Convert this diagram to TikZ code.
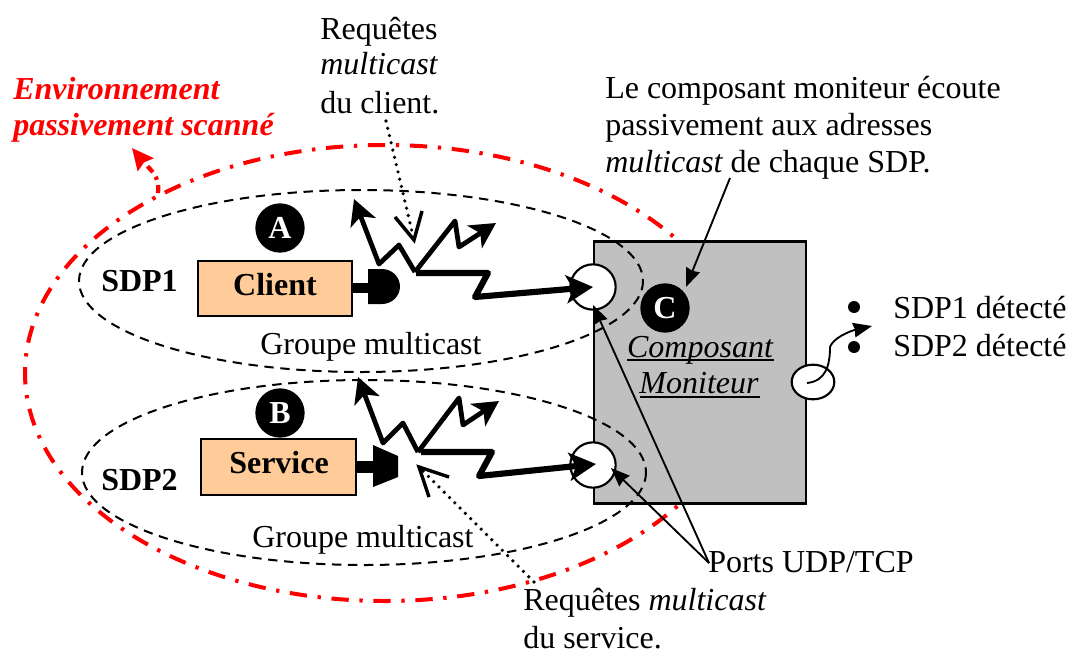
\documentclass[tikz,border=0pt]{standalone}
\usepackage{fontspec}
\setmainfont{Liberation Serif}
\usetikzlibrary{arrows.meta,shapes.geometric}
\definecolor{peach}{HTML}{FFCC99}
\definecolor{boxgrey}{HTML}{C0C0C0}
\newcommand{\tfont}{\fontsize{24}{28}\selectfont}
\tikzset{
  txt/.style={anchor=base west,inner sep=0pt,font=\tfont},
  txtbold/.style={txt,font=\tfont\bfseries},
  redtxt/.style={txt,text=red,font=\tfont\bfseries\itshape},
  compbox/.style={draw=black,line width=1.5pt,fill=peach,inner sep=0pt},
  boxlabel/.style={inner sep=0pt,font=\tfont\bfseries},
  badge/.style={circle,fill=black,text=white,minimum size=37pt,inner sep=0pt,font=\tfont\bfseries},
  port/.style={circle,draw=black,line width=1.6pt,fill=white,minimum size=34pt,inner sep=0pt},
  sdpring/.style={draw=black,line width=1.5pt,dash pattern=on 7pt off 5pt},
  envring/.style={draw=red,line width=3pt,dash pattern=on 13pt off 8pt on 2.5pt off 8pt},
  wave/.style={draw=black,line width=3.6pt,line join=round,-{Stealth[length=19pt,width=20pt,inset=5pt]}},
  wavebig/.style={draw=black,line width=4.6pt,line join=round,-{Stealth[length=20pt,width=21pt,inset=5pt]}},
  dotarrow/.style={draw=black,line width=2.7pt,line cap=round,dash pattern=on 0pt off 5.6pt},
  barb/.style={draw=black,line width=2.6pt,line join=miter},
  thinarrow/.style={draw=black,line width=1.4pt,-{Stealth[length=14pt,width=11pt,inset=1pt]}},
}
\begin{document}
\begin{tikzpicture}[x=0.75pt,y=-0.75pt]
\useasboundingbox (0,0) rectangle (1070,653);
% environment ring, behind the monitor box
\draw[envring] (385,373) ellipse [x radius=360,y radius=228];
\node[draw=black,line width=2.2pt,fill=boxgrey,minimum width=159pt,minimum height=197pt,inner sep=0pt] (mon) at (700,372.5) {};
% SDP rings
\draw[sdpring] (361,281) ellipse [x radius=282,y radius=91];
\draw[sdpring] (364,472.5) ellipse [x radius=282,y radius=92.5];
% ports
\node[port] (p1) at (593,287) {};
\node[port] (p2) at (593,465) {};
\node[ellipse,draw=black,line width=1.6pt,fill=white,minimum width=32pt,minimum height=26pt,inner sep=0pt] (p3) at (813,382) {};
% components
\node[compbox,minimum width=115.5pt,minimum height=41pt] (client) at (274.5,288.5) {};
\node[boxlabel] (clientlab) at (275,285) {Client};
\node[compbox,minimum width=116pt,minimum height=41.5pt] (service) at (278.5,467) {};
\node[boxlabel] (servicelab) at (279,463) {Service};
\node[badge] (A) at (280,228) {A};
\node[badge] (B) at (280,413) {B};
\node[badge] (C) at (665,308) {C};
% emitters
\coordinate (c1) at (352,288); \coordinate (c2) at (370,288);
\draw[line width=8pt] (c1) -- (c2);
\fill (368,269) -- (382,269) .. controls (392,269) and (400,277) .. (400,286.5) .. controls (400,296) and (392,304) .. (382,304) -- (368,304) -- cycle;
\coordinate (s1) at (356,467); \coordinate (s2) at (375,467);
\draw[line width=9pt] (s1) -- (s2);
\fill (373,445) -- (398,456) -- (398,477) -- (373,487) -- cycle;
% waves of A
\coordinate (ao) at (415,272);
\coordinate (at1) at (354,199);
\coordinate (at2) at (496,223);
\coordinate (at3) at (593,287);
\draw[wave] (ao) -- (399,245) -- (379,264) -- (at1);
\draw[wave] (ao) -- (455,221) -- (459,247) -- (at2);
\draw[wavebig] (416,273) -- (488,273) -- (475,297) -- (at3);
% waves of B
\coordinate (bo) at (418,452);
\coordinate (bt1) at (358,377);
\coordinate (bt2) at (499,401);
\coordinate (bt3) at (596,464);
\draw[wave] (bo) -- (403,423) -- (383,443) -- (bt1);
\draw[wave] (bo) -- (459,398) -- (463,425) -- (bt2);
\draw[wavebig] (421,452) -- (492,452) -- (479,476) -- (bt3);
% dotted request arrows
\coordinate (da0) at (386,121); \coordinate (da1) at (414,240);
\draw[dotarrow] (da0) -- (da1);
\draw[barb] (395,217) -- (da1) -- (422,211);
\coordinate (db0) at (534,582); \coordinate (db1) at (419,467);
\draw[dotarrow] (db0) -- (db1);
\draw[barb] (449,477) -- (db1) -- (429,497);
% red arrow
\coordinate (r0) at (158,193); \coordinate (r1) at (132,148);
\draw[draw=red,line width=3.2pt,dash pattern=on 6pt off 4pt on 2.5pt off 4pt,-{Stealth[length=16pt,width=15pt,inset=2pt,red,sep=0pt]}] (r0) .. controls (160,175) and (150,170) .. (r1);
% thin arrows
\coordinate (t0) at (730,178); \coordinate (t1) at (686,287);
\draw[thinarrow] (t0) -- (t1);
\coordinate (apex) at (709,563);
\coordinate (u1) at (593,305);
\draw[thinarrow] (apex) -- (u1);
\coordinate (v1) at (611,468);
\draw[thinarrow] (apex) -- (v1);
% output curve
\coordinate (w0) at (807,383); \coordinate (w1) at (872,326);
\draw[thinarrow] (w0) .. controls (826,381) and (830,365) .. (830,347) .. controls (833,338) and (850,331) .. (w1);
% bullets
\node[circle,fill=black,minimum size=9pt,inner sep=0pt] (d1) at (854,307) {};
\node[circle,fill=black,minimum size=9pt,inner sep=0pt] (d2) at (854,347) {};
% texts
\node[txt] (q1) at (320,39) {Requêtes};
\node[txt] (q2) at (320,74) {\itshape multicast};
\node[txt] (q3) at (320,113) {du client.};
\node[redtxt] (e1) at (13,99) {Environnement};
\node[redtxt] (e2) at (13,135) {passivement scanné};
\node[txt] (l1) at (605,98) {Le composant moniteur écoute};
\node[txt] (l2) at (605,135) {passivement aux adresses};
\node[txt] (l3) at (605,172) {\itshape multicast\upshape{} de chaque SDP.};
\node[txtbold] (sdp1) at (101,291) {SDP1};
\node[txtbold] (sdp2) at (101,490) {SDP2};
\node[txt] (g1) at (260,354) {Groupe multicast};
\node[txt] (g2) at (252,547) {Groupe multicast};
\node[txt] (ports) at (708,572) {Ports UDP/TCP};
\node[txt] (r1t) at (523,610) {Requêtes \itshape multicast};
\node[txt] (r2t) at (523,648) {du service.};
\node[txt] (s1t) at (893,318) {SDP1 détecté};
\node[txt] (s2t) at (893,356) {SDP2 détecté};
\node[txt,font=\tfont\itshape,anchor=base] (m1) at (700,357) {Composant};
\node[txt,font=\tfont\itshape,anchor=base] (m2) at (699,393) {Moniteur};
\draw[line width=1.5pt] (627,360) -- (774,360);
\draw[line width=1.5pt] (640,397) -- (760,397);
\end{tikzpicture}
\end{document}
